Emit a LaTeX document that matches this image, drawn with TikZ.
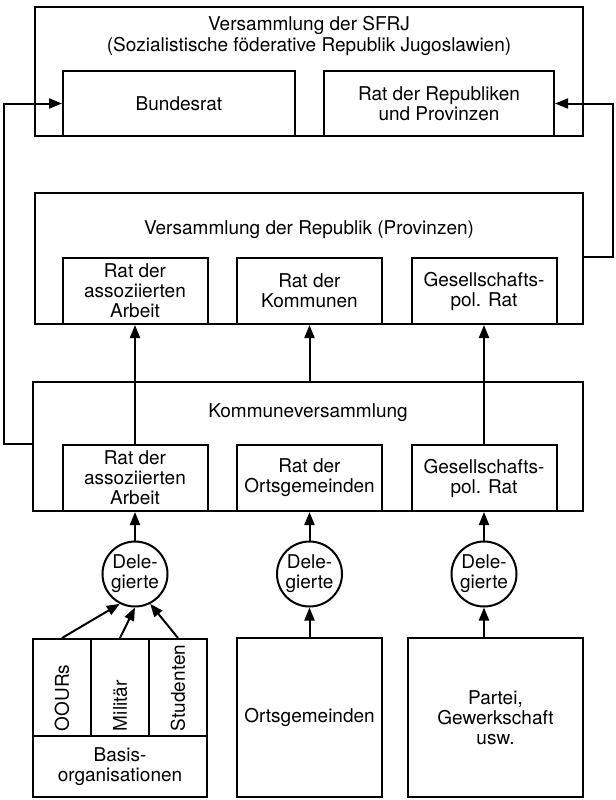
\documentclass[tikz,border=0pt]{standalone}
\usepackage{fontspec}
\setsansfont{TeX Gyre Heros}
\usetikzlibrary{positioning,arrows.meta}

\begin{document}
\begin{tikzpicture}[
  x=0.5pt, y=-0.5pt,
  >={Triangle[length=6.5pt,width=5pt]},
  every path/.style={line width=1pt},
  frame/.style={rectangle, draw, align=center},
  block/.style={rectangle, draw, minimum width=72.5pt, minimum height=33pt, align=center, inner sep=1pt},
  delegate/.style={circle, draw, minimum size=32.5pt, inner sep=0pt, align=center},
  column/.style={rectangle, draw, rotate=90, inner xsep=2.5pt, text width=43.5pt, minimum height=29pt, align=left},
  node distance=87.25pt,
  font=\sffamily\fontsize{9.5}{10}\selectfont
]
\useasboundingbox (0,0) rectangle (616,800);

% Bund
\node[frame, minimum width=274pt, minimum height=64.5pt] (sfrj) at (309,71.5) {};
\node[align=center, font=\sffamily\fontsize{9.5}{10.8}\selectfont] (sfrj_title) at (309,36) {Versammlung der SFRJ\\(Sozialistische föderative Republik Jugoslawien)};
\node[frame, minimum width=116pt, minimum height=32.5pt] (bundesrat) at (179,103.5) {Bundesrat};
\node[frame, minimum width=115pt, minimum height=32.5pt] (rat_rep) at (439,103.5) {Rat der Republiken\\und Provinzen};

% Republik
\node[frame, minimum width=274pt, minimum height=65.5pt] (rep) at (309,258.5) {};
\node (rep_title) at (309,230) {Versammlung der Republik (Provinzen)};
\node[block] (rep_arbeit) at (135,291) {Rat der\\assoziierten\\Arbeit};
\node[block, right of=rep_arbeit] (rep_kommunen) {Rat der\\Kommunen};
\node[block, right of=rep_kommunen] (rep_gespol) {Gesellschafts-\\pol. Rat};

% Kommune
\node[frame, minimum width=275pt, minimum height=64.5pt] (komm) at (308,446.5) {};
\node (komm_title) at (308,413) {Kommuneversammlung};
\node[block] (kom_arbeit) at (135,478) {Rat der\\assoziierten\\Arbeit};
\node[block, right of=kom_arbeit] (kom_orts) {Rat der\\Ortsgemeinden};
\node[block, right of=kom_orts] (kom_gespol) {Gesellschafts-\\pol. Rat};

% Delegierte
\node[delegate, below of=kom_arbeit, node distance=48pt] (del_arbeit) {Dele-\\gierte};
\node[delegate, below of=kom_orts, node distance=48pt] (del_orts) {Dele-\\gierte};
\node[delegate, below of=kom_gespol, node distance=48pt] (del_gespol) {Dele-\\gierte};

% Basis
\node[column] (oours) at (62,687.5) {OOURs};
\node[column] (militaer) at (120,687.5) {Militär};
\node[column] (studenten) at (178,687.5) {Studenten};
\node[frame, minimum width=87pt, minimum height=30.5pt] (basis) at (120,766.5) {Basis-\\organisationen};
\node[frame, minimum width=72.5pt, minimum height=79.5pt] (orts) at (309.5,717.5) {Ortsgemeinden};
\node[frame, minimum width=87.5pt, minimum height=79.5pt] (partei) at (495.5,717.5) {Partei,\\Gewerkschaft\\usw.};

\draw[->] (kom_arbeit.north -| komm.west) -- ++(-28,0) |- (bundesrat.west);
\draw[->] (rep_gespol.north -| rep.east) -- ++(29,0) |- (rat_rep.east);
\draw[->] (kom_arbeit.north) -- (rep_arbeit.south);
\draw[->] (komm.north -| rep_kommunen.south) -- (rep_kommunen.south);
\draw[->] (kom_gespol.north) -- (rep_gespol.south);
\draw[->] (del_arbeit) -- (kom_arbeit);
\draw[->] (del_orts) -- (kom_orts);
\draw[->] (del_gespol) -- (kom_gespol);
\draw[->] (oours.east) -- (del_arbeit.243);
\draw[->] (militaer.east) -- (del_arbeit.270);
\draw[->] (studenten.east) -- (del_arbeit.297);
\draw[->] (orts) -- (del_orts);
\draw[->] (partei.north -| del_gespol) -- (del_gespol);
\end{tikzpicture}
\end{document}
